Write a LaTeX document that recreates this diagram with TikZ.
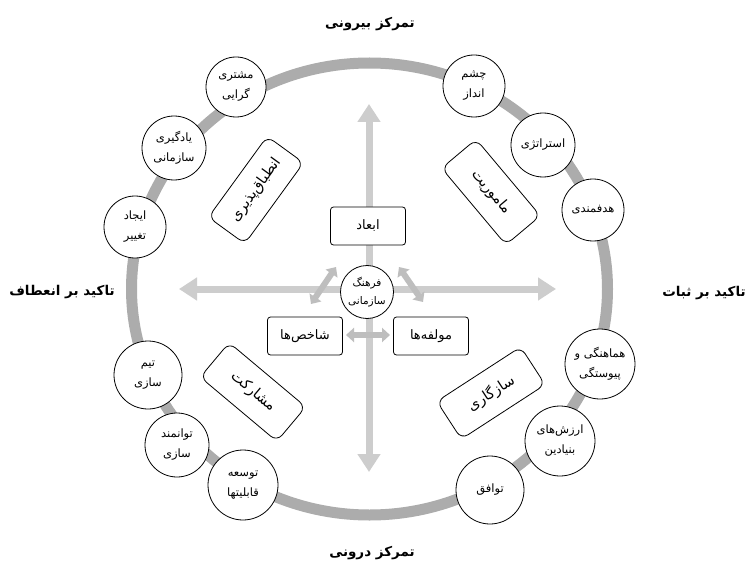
\documentclass[tikz,border=0pt]{standalone}
\usepackage{fontspec}
\usetikzlibrary{arrows.meta}
\TeXXeTstate=1
\newfontfamily\arabicfont[Script=Arabic]{DejaVu Sans}
\newcommand{\fa}[1]{\beginR #1\endR}
\definecolor{ringgray}{RGB}{172,172,172}
\definecolor{axisgray}{RGB}{205,205,205}
\definecolor{linkgray}{RGB}{190,190,190}
\begin{document}
\begin{tikzpicture}[x=1pt,y=-1pt,
  topic/.style={circle,draw,line width=0.8pt,fill=white,minimum size=62pt,inner sep=0pt,align=center,
    font=\arabicfont\fontsize{11.5}{20}\selectfont},
  dimbox/.style={draw,rounded corners=8pt,line width=0.8pt,fill=white,minimum width=100pt,minimum height=45pt,
    inner sep=0pt,font=\arabicfont\fontsize{14.5}{16}\selectfont},
  keybox/.style={draw,rounded corners=3pt,line width=0.8pt,fill=white,minimum width=75pt,minimum height=38pt,
    inner sep=0pt,font=\arabicfont\fontsize{13}{15}\selectfont},
  pole/.style={font=\arabicfont\bfseries\fontsize{13.5}{15}\selectfont},
  axisline/.style={draw=axisgray,line width=7pt,{Triangle[width=22pt,length=18pt]}-{Triangle[width=22pt,length=18pt]}},
  linkline/.style={draw=linkgray,line width=6pt,{Triangle[width=14pt,length=8pt]}-{Triangle[width=14pt,length=8pt]}}
]
\useasboundingbox (0,0) rectangle (750,567);
\fill[white] (0,0) rectangle (750,567);

% outer ring
\draw[ringgray,line width=11pt] (369.5,289) ellipse [x radius=238pt, y radius=226pt];

% axes
\coordinate (ytop) at (369,104);
\coordinate (ybot) at (369,472);
\coordinate (xleft) at (179,289);
\coordinate (xright) at (556,289);
\draw[axisline] (ytop) -- (ybot);
\draw[axisline] (xleft) -- (xright);

% links around the core
\coordinate (l1a) at (311,304);
\coordinate (l1b) at (336,267);
\coordinate (l2a) at (399,267);
\coordinate (l2b) at (423,302);
\coordinate (l3a) at (346,335);
\coordinate (l3b) at (390,335);
\draw[linkline] (l1a) -- (l1b);
\draw[linkline] (l2a) -- (l2b);
\draw[linkline] (l3a) -- (l3b);

% core
\node[circle,draw,line width=0.8pt,fill=white,minimum size=53pt,inner sep=0pt,align=center,
  font=\arabicfont\fontsize{10.5}{18}\selectfont] (core) at (367,292) {\fa{فرهنگ}\\\fa{سازمانی}};
\node[keybox] (dims) at (368,226) {\fa{ابعاد}};
\node[keybox] (inds) at (305,336) {\fa{شاخص‌ها}};
\node[keybox] (comps) at (431,336) {\fa{مولفه‌ها}};

% traits
\node[dimbox,rotate=54] (adapt) at (256,190) {\fa{انطباق‌پذیری}};
\node[dimbox,rotate=-50] (mission) at (491,192) {\fa{ماموریت}};
\node[dimbox,rotate=-40] (involve) at (253,392) {\fa{مشارکت}};
\node[dimbox,rotate=33] (consist) at (491,393) {\fa{سازگاری}};

% indices on the ring
\node[topic,minimum size=60pt] (c1) at (236,87) {\fa{مشتری}\\\fa{گرایی}};
\node[topic,minimum size=64pt] (c2) at (174,148) {\fa{یادگیری}\\\fa{سازمانی}};
\node[topic,minimum size=62pt] (c3) at (135,227) {\fa{ایجاد}\\\fa{تغییر}};
\node[topic] (c4) at (474,86) {\fa{چشم}\\\fa{انداز}};
\node[topic,minimum size=64pt] (c5) at (543,145) {\fa{استراتژی}};
\node[topic,minimum size=62pt] (c6) at (593,210) {\fa{هدفمندی}};
\node[topic,minimum size=70pt] (c7) at (600,364) {\fa{هماهنگی و}\\\fa{پیوستگی}};
\node[topic,minimum size=70pt] (c8) at (560,441) {\fa{ارزش‌های}\\\fa{بنیادین}};
\node[topic,minimum size=68pt] (c9) at (490,490) {\fa{توافق}};
\node[topic,minimum size=68pt] (c10) at (148,375) {\fa{تیم}\\\fa{سازی}};
\node[topic,minimum size=64pt] (c11) at (177,445) {\fa{توانمند}\\\fa{سازی}};
\node[topic,minimum size=70pt] (c12) at (243,485) {\fa{توسعه}\\\fa{قابلیتها}};

% poles
\node[pole] (ext) at (370,24) {\fa{تمرکز بیرونی}};
\node[pole] (int) at (372,553) {\fa{تمرکز درونی}};
\node[pole] (flex) at (62,292) {\fa{تاکید بر انعطاف}};
\node[pole] (stab) at (704,293) {\fa{تاکید بر ثبات}};
\end{tikzpicture}
\end{document}
